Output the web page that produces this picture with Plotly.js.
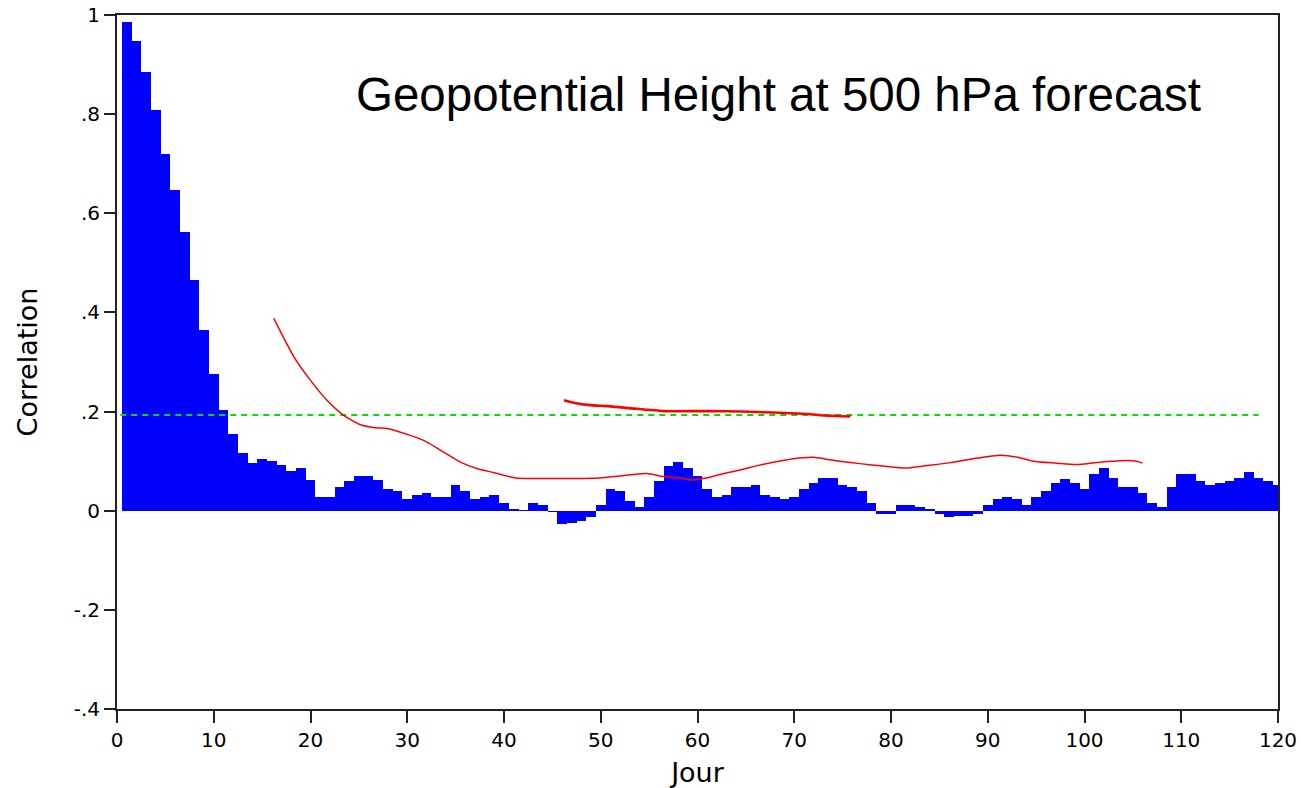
<!DOCTYPE html>
<html>
<head>
<meta charset="utf-8">
<script src="https://cdn.plot.ly/plotly-3.0.1.min.js"></script>
<style>
html,body{margin:0;padding:0;background:#fff;}
#chart{width:1309px;height:788px;}
</style>
</head>
<body>
<div id="chart"></div>
<script>
// Daily correlation (bars), days 1..120
const days = [];
for (let d = 1; d <= 120; d++) days.push(d);
const correlation = [
  0.985, 0.948, 0.886, 0.809, 0.720, 0.646, 0.563, 0.466, 0.365, 0.276,
  0.203, 0.155, 0.116, 0.097, 0.105, 0.101, 0.093, 0.081, 0.086, 0.062,
  0.028, 0.028, 0.048, 0.059, 0.071, 0.071, 0.062, 0.043, 0.039, 0.024,
  0.032, 0.036, 0.028, 0.028, 0.051, 0.039, 0.024, 0.028, 0.032, 0.016,
  0.004, 0.002, 0.016, 0.012, -0.002, -0.027, -0.025, -0.020, -0.013, 0.012,
  0.043, 0.039, 0.020, 0.008, 0.028, 0.059, 0.090, 0.098, 0.086, 0.071,
  0.043, 0.028, 0.032, 0.047, 0.047, 0.051, 0.032, 0.028, 0.024, 0.028,
  0.043, 0.055, 0.067, 0.067, 0.051, 0.047, 0.039, 0.016, -0.007, -0.007,
  0.012, 0.012, 0.008, 0.004, -0.007, -0.013, -0.010, -0.010, -0.007, 0.012,
  0.024, 0.028, 0.024, 0.012, 0.028, 0.039, 0.055, 0.063, 0.055, 0.043,
  0.075, 0.087, 0.067, 0.047, 0.047, 0.036, 0.016, 0.008, 0.047, 0.075,
  0.075, 0.059, 0.051, 0.055, 0.059, 0.067, 0.078, 0.067, 0.059, 0.051
];

// Red curve 1 (long)
const curve1Days = [16.2, 18.3, 20.0, 21.7, 23.4, 25.1, 26.9, 27.9, 30.3, 32.0, 33.7, 35.5, 37.2, 38.9, 41.3, 46.0, 49.9, 52.0, 54.7, 56.5, 58.2, 59.4, 60.9, 62.3, 64.4, 66.4, 68.5, 69.9, 72.0, 73.3, 74.7, 76.8, 79.2, 81.6, 83.7, 86.1, 88.5, 91.3, 93.3, 94.7, 97.1, 99.2, 101.6, 103.7, 105.4, 106.0];
const curve1Vals = [0.388, 0.310, 0.263, 0.223, 0.193, 0.174, 0.167, 0.166, 0.152, 0.139, 0.119, 0.098, 0.085, 0.077, 0.066, 0.065, 0.066, 0.070, 0.075, 0.069, 0.066, 0.062, 0.066, 0.073, 0.082, 0.092, 0.100, 0.105, 0.108, 0.104, 0.100, 0.095, 0.090, 0.086, 0.091, 0.097, 0.105, 0.112, 0.107, 0.100, 0.096, 0.093, 0.098, 0.101, 0.100, 0.096];

// Red curve 2 (short, upper)
const curve2Days = [46.2, 47.2, 48.9, 50.7, 53.4, 56.5, 61.0, 64.5, 67.9, 71.4, 73.1, 75.8];
const curve2Vals = [0.223, 0.218, 0.213, 0.211, 0.206, 0.201, 0.201, 0.200, 0.198, 0.195, 0.192, 0.190];

// Green dashed threshold
const thresholdDays = [-0.8, 118];
const thresholdVals = [0.193, 0.193];

const xTicks = [0, 10, 20, 30, 40, 50, 60, 70, 80, 90, 100, 110, 120];
const yTicks = [-0.4, -0.2, 0, 0.2, 0.4, 0.6, 0.8, 1];
const yTickText = ['-.4', '-.2', '0', '.2', '.4', '.6', '.8', '1'];

const titleText = 'Geopotential Height at 500 hPa forecast';

const traces = [
  {
    type: 'bar', x: days, y: correlation, width: 1,
    marker: {color: '#0000ff', line: {width: 0}},
    hoverinfo: 'x+y'
  },
  {
    type: 'scatter', mode: 'lines', x: thresholdDays, y: thresholdVals,
    cliponaxis: false,
    line: {color: '#00e000', width: 2, dash: '6px,5px'}
  },
  {
    type: 'scatter', mode: 'lines', x: curve1Days, y: curve1Vals,
    line: {color: '#ff0000', width: 1.5, shape: 'spline', smoothing: 0.6}
  },
  {
    type: 'scatter', mode: 'lines', x: curve2Days, y: curve2Vals,
    line: {color: '#ff0000', width: 2.6, shape: 'spline', smoothing: 0.5}
  }
];

const tickFont = {family: 'DejaVu Sans', size: 20, color: '#000'};

const layout = {
  width: 1309, height: 788,
  margin: {l: 117, r: 31, t: 15, b: 79},
  paper_bgcolor: '#fff', plot_bgcolor: '#fff',
  showlegend: false,
  bargap: 0,
  xaxis: {
    range: [0, 120], tickvals: xTicks, ticktext: xTicks.map(String),
    ticks: 'outside', ticklen: 12, tickwidth: 2, tickcolor: '#222',
    showline: true, linewidth: 2, linecolor: '#222', mirror: true,
    showgrid: false, zeroline: false, tickfont: tickFont,
    title: {text: 'Jour', font: {family: 'DejaVu Sans', size: 27, color: '#000'}, standoff: 14}
  },
  yaxis: {
    range: [-0.4, 1], tickvals: yTicks, ticktext: yTickText,
    ticks: 'outside', ticklen: 11, tickwidth: 2, tickcolor: '#222',
    showline: true, linewidth: 2, linecolor: '#222', mirror: true,
    showgrid: false, zeroline: false, tickfont: tickFont,
    title: {text: 'Correlation', font: {family: 'DejaVu Sans', size: 27, color: '#000'}, standoff: 28}
  },
  annotations: [{
    text: titleText, xref: 'paper', yref: 'paper',
    x: 0.2041, y: 0.885, xanchor: 'left', yanchor: 'middle',
    showarrow: false,
    font: {family: 'Liberation Sans', size: 47.5, color: '#000'}
  }]
};

Plotly.newPlot('chart', traces, layout, {displayModeBar: false, staticPlot: true});
</script>
</body>
</html>
